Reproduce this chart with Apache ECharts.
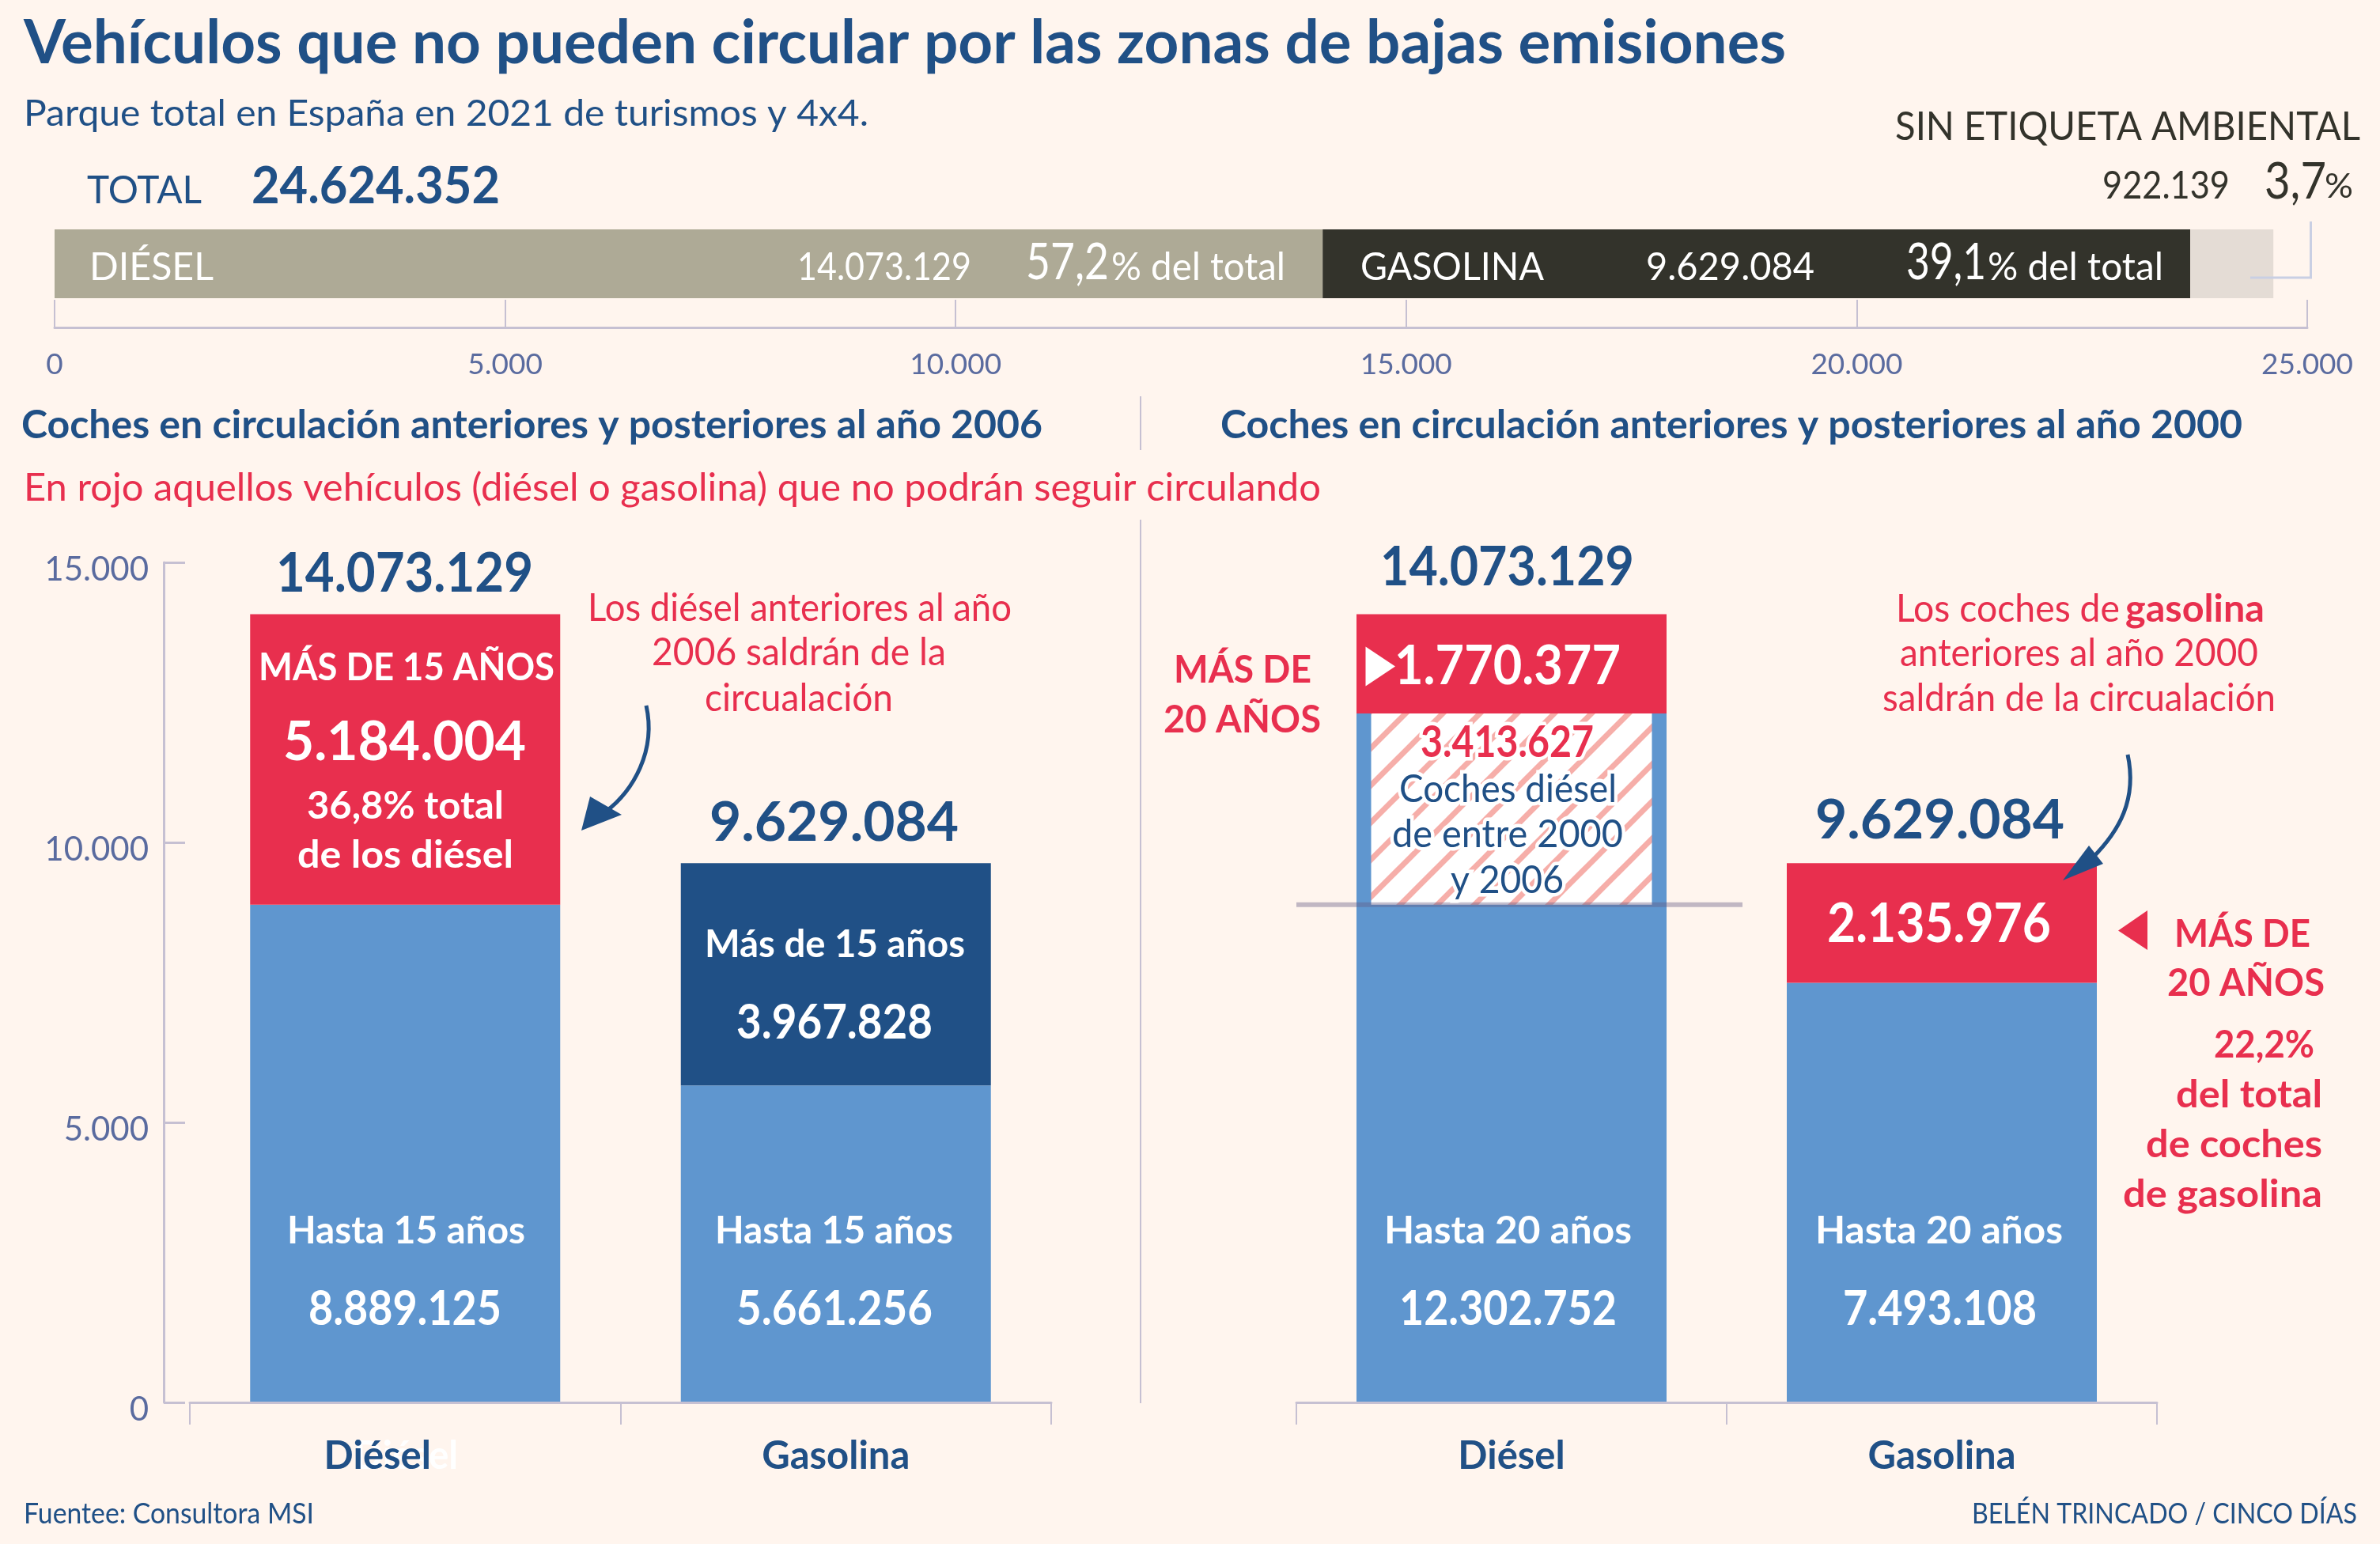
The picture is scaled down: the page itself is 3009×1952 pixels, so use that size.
<!DOCTYPE html>
<html>
<head>
<meta charset="utf-8">
<title>Zonas de bajas emisiones</title>
<style>
  html, body { margin: 0; padding: 0; background: #fff5ee; }
  #chart { width: 3009px; height: 1952px; }
</style>
<script src="https://cdn.jsdelivr.net/npm/echarts@6/dist/echarts.min.js"></script>
</head>
<body>
<div id="chart"></div>
<script>
// datos
var categories = ['Diésel', 'Gasolina'];
var parqueTotal = 24624352;
var parqueNames = ['DIÉSEL', 'GASOLINA', 'SIN ETIQUETA AMBIENTAL'];
var parqueValues = [14073129, 9629084, 922139];
var parquePct = ['57,2', '39,1', '3,7'];
var totals = [14073129, 9629084];
var hasta15 = [8889125, 5661256];
var mas15 = [5184004, 3967828];
var hasta20 = [12302752, 7493108];
var mas20 = [1770377, 2135976];
var entreBase = [8889125, null];
var entre2000y2006 = [3413627, null];
var topTicks = 5000000;
var sideTicks = 5000000;

// colores
var BG = '#fff5ee', NAVY = '#205086', BLUE = '#5f96cf', RED = '#e82f4e';
var KHAKI = '#aeaa96', DARK = '#33332b', LIGHT = '#e4dcd5';
var AXIS = '#c6c0d2', TICKTXT = '#5a6b9f', FONT = 'Lato';

var fmt = function(v) {
  return String(v).replace(/\B(?=(\d{3})+$)/g, '.');
};
var fmtK = function(v) {
  return fmt(v / 1000);
};

// trama rayada de la zona de coches entre 2000 y 2006
var hatch = document.createElement('canvas');
hatch.width = hatch.height = 47;
var hctx = hatch.getContext('2d');
hctx.fillStyle = '#fff';
hctx.fillRect(0, 0, 47, 47);
hctx.strokeStyle = '#f6aea9';
hctx.lineWidth = 7;
[-47, 0, 47].forEach(function(d) {
  hctx.beginPath();
  hctx.moveTo(d - 5, 52);
  hctx.lineTo(d + 52, -5);
  hctx.stroke();
});

var catAxis = function(gridIndex) {
  return {
    type: 'category', gridIndex: gridIndex, data: categories, z: 5,
    axisLine: { lineStyle: { color: AXIS, width: 3 } },
    axisTick: { show: true, length: 28, lineStyle: { color: AXIS, width: 2 } },
    axisLabel: {
      interval: 0, margin: 44, fontFamily: FONT, fontWeight: 'bold', fontSize: 49, color: NAVY
    }
  };
};

var chart = echarts.init(document.getElementById('chart'));
var option = {
  backgroundColor: BG,
  animation: false,
  grid: [
    { left: 69, top: 290, width: 2848, height: 87 },
    { left: 240, top: 711, width: 1089, height: 1062 },
    { left: 1639, top: 711, width: 1088, height: 1062 }
  ],
  xAxis: [
    {
      type: 'value', gridIndex: 0, min: 0, max: 25000000, interval: topTicks, offset: 37, z: 5,
      splitLine: { show: false },
      axisLine: { show: true, lineStyle: { color: AXIS, width: 3 } },
      axisTick: { show: true, inside: true, length: 35, lineStyle: { color: AXIS, width: 2 } },
      axisLabel: { margin: 29, formatter: fmtK, fontFamily: FONT, fontSize: 37, color: TICKTXT }
    },
    catAxis(1),
    catAxis(2),
    // eje oculto para la trama, mas estrecha que la barra
    { type: 'category', gridIndex: 2, data: categories, show: false }
  ],
  yAxis: [
    { type: 'category', gridIndex: 0, data: ['Parque'], show: false },
    {
      type: 'value', gridIndex: 1, min: 0, max: 15000000, interval: sideTicks, offset: 33,
      splitLine: { show: false },
      axisLine: { show: true, lineStyle: { color: AXIS, width: 3 } },
      axisTick: { show: true, inside: true, length: 27, lineStyle: { color: AXIS, width: 3 } },
      axisLabel: {
        margin: 19,
        formatter: function(v) {
          return '{t|' + fmtK(v) + '}';
        },
        rich: { t: { padding: [18, 0, 0, 0], fontFamily: FONT, fontSize: 42, color: TICKTXT } }
      }
    },
    { type: 'value', gridIndex: 2, min: 0, max: 15000000, show: false }
  ],
  series: [
    { name: parqueNames[0], type: 'bar', stack: 'p', xAxisIndex: 0, yAxisIndex: 0, barWidth: 87, data: [parqueValues[0]], itemStyle: { color: KHAKI } },
    { name: parqueNames[1], type: 'bar', stack: 'p', xAxisIndex: 0, yAxisIndex: 0, barWidth: 87, data: [parqueValues[1]], itemStyle: { color: DARK } },
    { name: parqueNames[2], type: 'bar', stack: 'p', xAxisIndex: 0, yAxisIndex: 0, barWidth: 87, data: [parqueValues[2]], itemStyle: { color: LIGHT } },

    { name: 'Hasta 15 años', type: 'bar', stack: 'a', xAxisIndex: 1, yAxisIndex: 1, barWidth: 392, data: hasta15, itemStyle: { color: BLUE } },
    {
      name: 'Más de 15 años', type: 'bar', stack: 'a', xAxisIndex: 1, yAxisIndex: 1, barWidth: 392,
      data: [{ value: mas15[0], itemStyle: { color: RED } }, { value: mas15[1], itemStyle: { color: NAVY } }]
    },

    { name: 'Hasta 20 años', type: 'bar', stack: 'b', xAxisIndex: 2, yAxisIndex: 2, barWidth: 392, data: hasta20, itemStyle: { color: BLUE } },
    { name: 'Más de 20 años', type: 'bar', stack: 'b', xAxisIndex: 2, yAxisIndex: 2, barWidth: 392, data: mas20, itemStyle: { color: RED } },

    { name: 'base', type: 'bar', stack: 'c', xAxisIndex: 3, yAxisIndex: 2, barWidth: 355, data: entreBase, silent: true, z: 3, itemStyle: { color: 'transparent' } },
    {
      name: 'Entre 2000 y 2006', type: 'bar', stack: 'c', xAxisIndex: 3, yAxisIndex: 2, barWidth: 355, z: 3,
      data: entre2000y2006, itemStyle: { color: { image: hatch, repeat: 'repeat' } }
    }
  ]
};
chart.setOption(option);

// ajusta cada texto a su ancho con scaleX
var mctx = document.createElement('canvas').getContext('2d');
var txt = function(str, x0, x1, yc, size, color, weight, halo) {
  weight = weight || 'normal';
  size = size * 1.05;
  x0 = x0 - 2;
  mctx.font = weight + ' ' + size + 'px ' + FONT;
  var style = {
    text: str, x: 0, y: 0, fill: color, fontFamily: FONT, fontSize: size, fontWeight: weight,
    textAlign: 'left', verticalAlign: 'middle'
  };
  if (halo) {
    style.stroke = '#fff';
    style.lineWidth = 9;
  }
  return {
    type: 'text', z: 100, x: x0, y: yc + size * 0.02, scaleX: (x1 - x0) / mctx.measureText(str).width,
    silent: true, style: style
  };
};
var tri = function(pts, color) {
  return { type: 'polygon', z: 90, silent: true, shape: { points: pts }, style: { fill: color } };
};
var curve = function(p) {
  return {
    type: 'bezierCurve', z: 90, silent: true,
    shape: { x1: p[0], y1: p[1], cpx1: p[2], cpy1: p[3], cpx2: p[4], cpy2: p[5], x2: p[6], y2: p[7] },
    style: { stroke: NAVY, lineWidth: 5, fill: 'none' }
  };
};
var line = function(x1, y1, x2, y2, color, width) {
  return {
    type: 'line', z: 90, silent: true,
    shape: { x1: x1, y1: y1, x2: x2, y2: y2 },
    style: { stroke: color, lineWidth: width }
  };
};

var refY = chart.convertToPixel({ yAxisIndex: 2 }, hasta15[0]);

var elements = [
  // cabecera
  txt('Vehículos que no pueden circular por las zonas de bajas emisiones', 32, 2258, 54, 72, NAVY, 'bold'),
  txt('Parque total en España en 2021 de turismos y 4x4.', 32, 1098, 143, 45, NAVY),
  txt('TOTAL', 112, 255, 240, 46, NAVY),
  txt(fmt(parqueTotal), 320, 632, 235, 62, NAVY, 'bold'),
  txt(parqueNames[2], 2398, 2984, 160, 47, DARK),
  txt(fmt(parqueValues[2]), 2660, 2819, 234, 46, DARK),
  txt(parquePct[2], 2865, 2941, 229, 60, DARK),
  txt('%', 2941, 2975, 236, 40, DARK),
  line(2921.5, 280, 2921.5, 351, '#c9cfe3', 3),
  line(2845, 351, 2923, 351, '#c9cfe3', 3),

  // barra del parque
  txt(parqueNames[0], 115, 270, 337, 46, '#fff'),
  txt(fmt(parqueValues[0]), 1010, 1228, 337, 46, '#fff'),
  txt(parquePct[0], 1299, 1402, 331, 60, '#fff'),
  txt('% del total', 1407, 1625, 337, 46, '#fff'),
  txt(parqueNames[1], 1722, 1952, 337, 46, '#fff'),
  txt(fmt(parqueValues[1]), 2083, 2294, 337, 46, '#fff'),
  txt(parquePct[1], 2412, 2511, 331, 60, '#fff'),
  txt('% del total', 2515, 2735, 337, 46, '#fff'),

  // separadores y subtitulos
  line(1442, 501, 1442, 569, AXIS, 2),
  line(1442, 657, 1442, 1774, AXIS, 2),
  txt('Coches en circulación anteriores y posteriores al año 2006', 29, 1318, 537, 48, NAVY, 'bold'),
  txt('Coches en circulación anteriores y posteriores al año 2000', 1545, 2835, 537, 48, NAVY, 'bold'),
  txt('En rojo aquellos vehículos (diésel o gasolina) que no podrán seguir circulando', 32, 1670, 616, 46, RED),

  // grafico izquierdo
  txt(fmt(totals[0]), 351, 674, 724, 66, NAVY, 'bold'),
  txt('Los diésel anteriores al año', 745, 1279, 768, 46, RED),
  txt('2006 saldrán de la', 826, 1196, 824, 46, RED),
  txt('circualación', 893, 1129, 882, 46, RED),
  txt('MÁS DE 15 AÑOS', 329, 701, 843, 46, '#fff', 'bold'),
  txt(fmt(mas15[0]), 360, 665, 937, 66, '#fff', 'bold'),
  txt('36,8% total', 390, 637, 1018, 46, '#fff', 'bold'),
  txt('de los diésel', 378, 649, 1080, 46, '#fff', 'bold'),
  txt(fmt(totals[1]), 899, 1212, 1039, 66, NAVY, 'bold'),
  txt('Más de 15 años', 893, 1220, 1193, 46, '#fff', 'bold'),
  txt(fmt(mas15[1]), 933, 1179, 1292, 58, '#fff', 'bold'),
  txt('Hasta 15 años', 365, 664, 1555, 46, '#fff', 'bold'),
  txt('Hasta 15 años', 906, 1205, 1555, 46, '#fff', 'bold'),
  txt(fmt(hasta15[0]), 392, 634, 1654, 58, '#fff', 'bold'),
  txt(fmt(hasta15[1]), 933, 1179, 1654, 58, '#fff', 'bold'),
  curve([817, 892, 830, 950, 800, 1000, 766, 1026]),
  tri([[735, 1050], [746, 1007], [786, 1030]], NAVY),

  // grafico derecho
  { type: 'rect', z: 80, silent: true, shape: { x: 1639, y: refY - 3, width: 564, height: 6 }, style: { fill: 'rgba(100,90,130,0.4)' } },
  txt(fmt(totals[0]), 1747, 2066, 716, 66, NAVY, 'bold'),
  txt(fmt(totals[1]), 2297, 2610, 1036, 66, NAVY, 'bold'),
  txt('MÁS DE', 1486, 1658, 846, 46, RED, 'bold'),
  txt('20 AÑOS', 1473, 1670, 909, 46, RED, 'bold'),
  tri([[1726.5, 817.5], [1726.5, 867.5], [1764, 842.5]], '#fff'),
  txt(fmt(mas20[0]), 1765, 2049, 841, 66, '#fff', 'bold'),
  txt(fmt(entre2000y2006[0]), 1798, 2015, 938, 52, RED, 'bold', true),
  txt('Coches diésel', 1771, 2044, 997, 46, NAVY, 'normal', true),
  txt('de entre 2000', 1762, 2052, 1054, 46, NAVY, 'normal', true),
  txt('y 2006', 1836, 1977, 1112, 46, NAVY, 'normal', true),
  txt('Hasta 20 años', 1752, 2063, 1555, 46, '#fff', 'bold'),
  txt('Hasta 20 años', 2297, 2608, 1555, 46, '#fff', 'bold'),
  txt(fmt(hasta20[0]), 1771, 2044, 1654, 58, '#fff', 'bold'),
  txt(fmt(hasta20[1]), 2332, 2575, 1654, 58, '#fff', 'bold'),
  txt(fmt(mas20[1]), 2312, 2593, 1167, 66, '#fff', 'bold'),
  txt('Los coches de', 2399, 2680, 769, 46, RED),
  txt('gasolina', 2689, 2863, 769, 46, RED, 'bold'),
  txt('anteriores al año 2000', 2404, 2855, 825, 46, RED),
  txt('saldrán de la circualación', 2382, 2877, 882, 46, RED),
  curve([2690, 954, 2702, 1010, 2680, 1050, 2645, 1085]),
  tri([[2608, 1113], [2641, 1069], [2659, 1092]], NAVY),
  tri([[2678, 1176.5], [2715, 1151], [2715, 1201]], RED),
  txt('MÁS DE', 2751, 2921, 1180, 46, RED, 'bold'),
  txt('20 AÑOS', 2742, 2939, 1242, 46, RED, 'bold'),
  txt('22,2%', 2801, 2926, 1320, 46, RED, 'bold'),
  txt('del total', 2753, 2936, 1383, 46, RED, 'bold'),
  txt('de coches', 2715, 2936, 1446, 46, RED, 'bold'),
  txt('de gasolina', 2686, 2936, 1509, 46, RED, 'bold'),

  // pie
  txt('Fuentee: Consultora MSI', 32, 397, 1913, 35, NAVY),
  txt('BELÉN TRINCADO / CINCO DÍAS', 2495, 2980, 1913, 35, NAVY)
];

// rotulo fantasma blanco bajo el Diésel desplazado
var ghost = txt('Diésel', 450, 579, 1840, 47, '#fff', 'bold');
ghost.z = -1;
elements.push(ghost);

chart.setOption({
  xAxis: [{}, {
    axisLabel: {
      formatter: function(v) {
        return v === categories[0] ? '{d|' + v + '}' : v;
      },
      rich: { d: { padding: [0, 70, 0, 0], fontFamily: FONT, fontWeight: 'bold', fontSize: 49, color: NAVY } }
    }
  }],
  graphic: { elements: elements }
});
</script>
</body>
</html>
